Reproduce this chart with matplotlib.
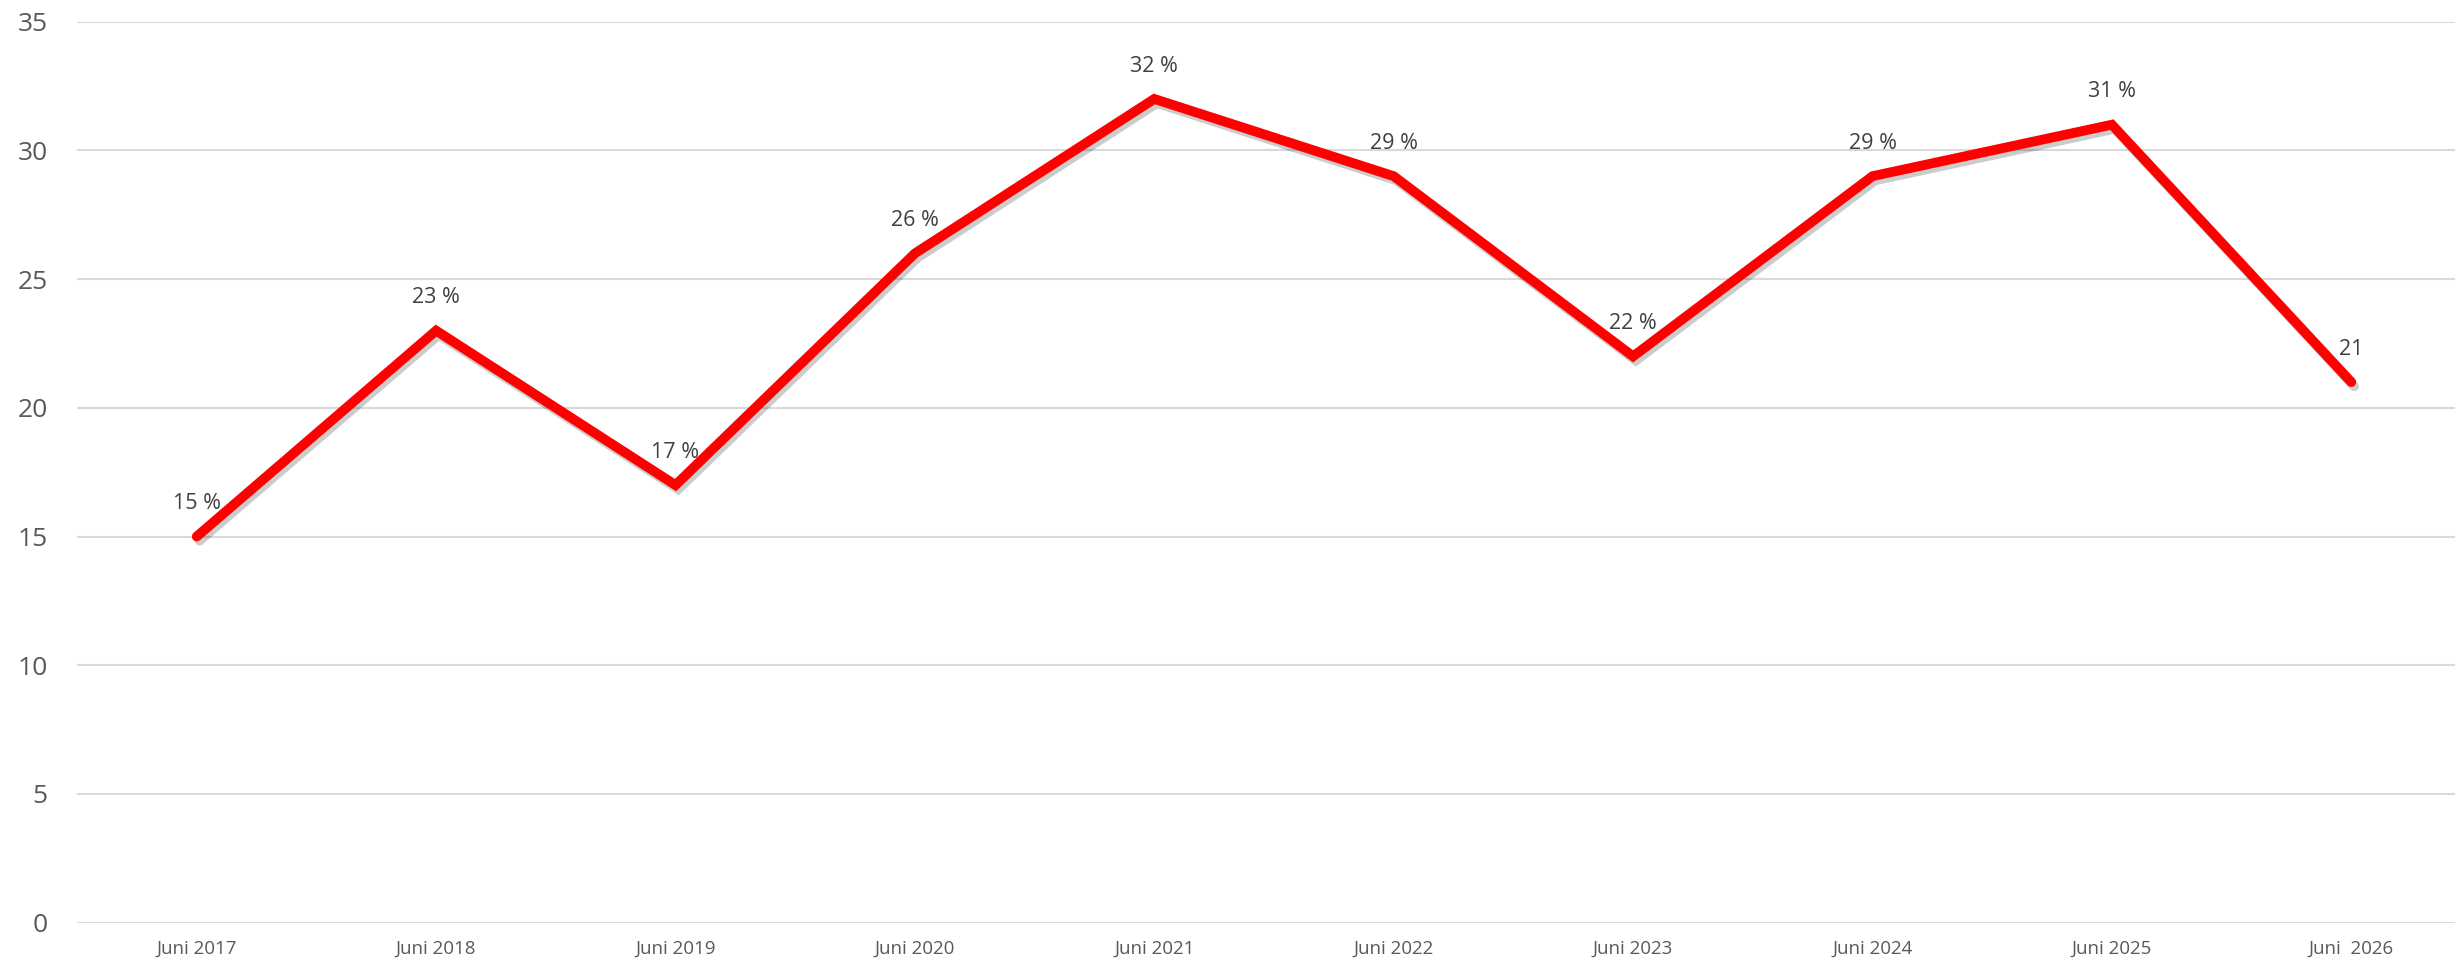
import matplotlib
matplotlib.use("Agg")
import matplotlib.pyplot as plt
import matplotlib.patheffects as pe

categories = ["Juni 2017", "Juni 2018", "Juni 2019", "Juni 2020", "Juni 2021",
              "Juni 2022", "Juni 2023", "Juni 2024", "Juni 2025", "Juni  2026"]
values = [15, 23, 17, 26, 32, 29, 22, 29, 31, 21]
point_labels = ["15 %", "23 %", "17 %", "26 %", "32 %", "29 %", "22 %", "29 %", "31 %", "21"]
yticks = [0, 5, 10, 15, 20, 25, 30, 35]

plt.rcParams['font.family'] = ['Open Sans', 'DejaVu Sans']

W, H = 2455, 960
fig = plt.figure(figsize=(W / 100, H / 100), dpi=100)
left, right = 77, 2471
top, bottom = 21.7, 922.7
ax = fig.add_axes([left / W, 1 - bottom / H, (right - left) / W, (bottom - top) / H])

x = list(range(len(categories)))
ax.plot(x, values, color="#ff0000", lw=7, solid_joinstyle="miter", solid_capstyle="round",
        path_effects=[pe.SimpleLineShadow(offset=(2, -3), shadow_color="black", alpha=0.2, rho=0.3),
                      pe.Normal()], zorder=3)

for xi, v, lab in zip(x, values, point_labels):
    ax.annotate(lab, (xi, v), xytext=(0, 16), textcoords="offset points",
                ha="center", va="bottom", fontsize=15.5, color="#404040")

ax.set_xlim(-0.5, len(categories) - 0.5)
ax.set_ylim(0, 35)
ax.set_yticks(yticks)
ax.set_xticks(x)
ax.set_xticklabels(categories, fontsize=13.5, color="#595959")
ax.tick_params(axis="y", labelsize=19, labelcolor="#595959", length=0, pad=21)
ax.tick_params(axis="x", length=0, pad=12)
ax.grid(axis="y", color="#d9d9d9", lw=1.5)
ax.set_axisbelow(True)
for s in ax.spines.values():
    s.set_visible(False)

fig.savefig("out.png", dpi=100)
